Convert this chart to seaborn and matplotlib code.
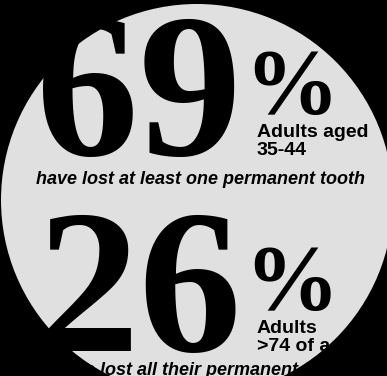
import matplotlib
matplotlib.use("Agg")
import matplotlib.pyplot as plt
import seaborn as sns
from matplotlib.patches import Circle

# figures from the infographic
percents = ["69", "26"]
group_lines = [["Adults aged", "35-44"], ["Adults", ">74 of age"]]
captions = ["have lost at least one permanent tooth",
            "have lost all their permanent teeth"]

sns.set_theme(style="white")

fig = plt.figure(figsize=(3.87, 3.76), dpi=100, facecolor="black")
ax = fig.add_axes([0, 0, 1, 1])
ax.set_facecolor("black")
ax.set_xlim(0, 387)
ax.set_ylim(376, 0)
ax.axis("off")

disc = Circle((197, 200), 196, facecolor="#e0e0e0", edgecolor="none")
ax.add_patch(disc)

# vertical layout of each block (pixel rows)
num_base = [155, 351]
cap_base = [184, 375]

for i, pct in enumerate(percents):
    t = ax.text(36, num_base[i], pct, fontsize=148, fontweight="bold",
                family="Liberation Serif", ha="left", va="baseline", color="black")
    t.set_clip_path(disc)
    p = ax.text(244, num_base[i] - 42, "%", fontsize=68, fontweight="bold",
                family="Liberation Serif", ha="left", va="baseline", color="black")
    p.set_clip_path(disc)
    for j, line in enumerate(group_lines[i]):
        g = ax.text(257, num_base[i] - 18 + j * 18, line, fontsize=14,
                    fontweight="bold", family="Liberation Sans",
                    ha="left", va="baseline", color="black")
        g.set_clip_path(disc)
    c = ax.text(200, cap_base[i], captions[i], fontsize=13, fontstyle="italic",
                fontweight="bold", family="Liberation Sans",
                ha="center", va="baseline", color="black")
    c.set_clip_path(disc)

fig.savefig("out.png", dpi=100, facecolor="black")
